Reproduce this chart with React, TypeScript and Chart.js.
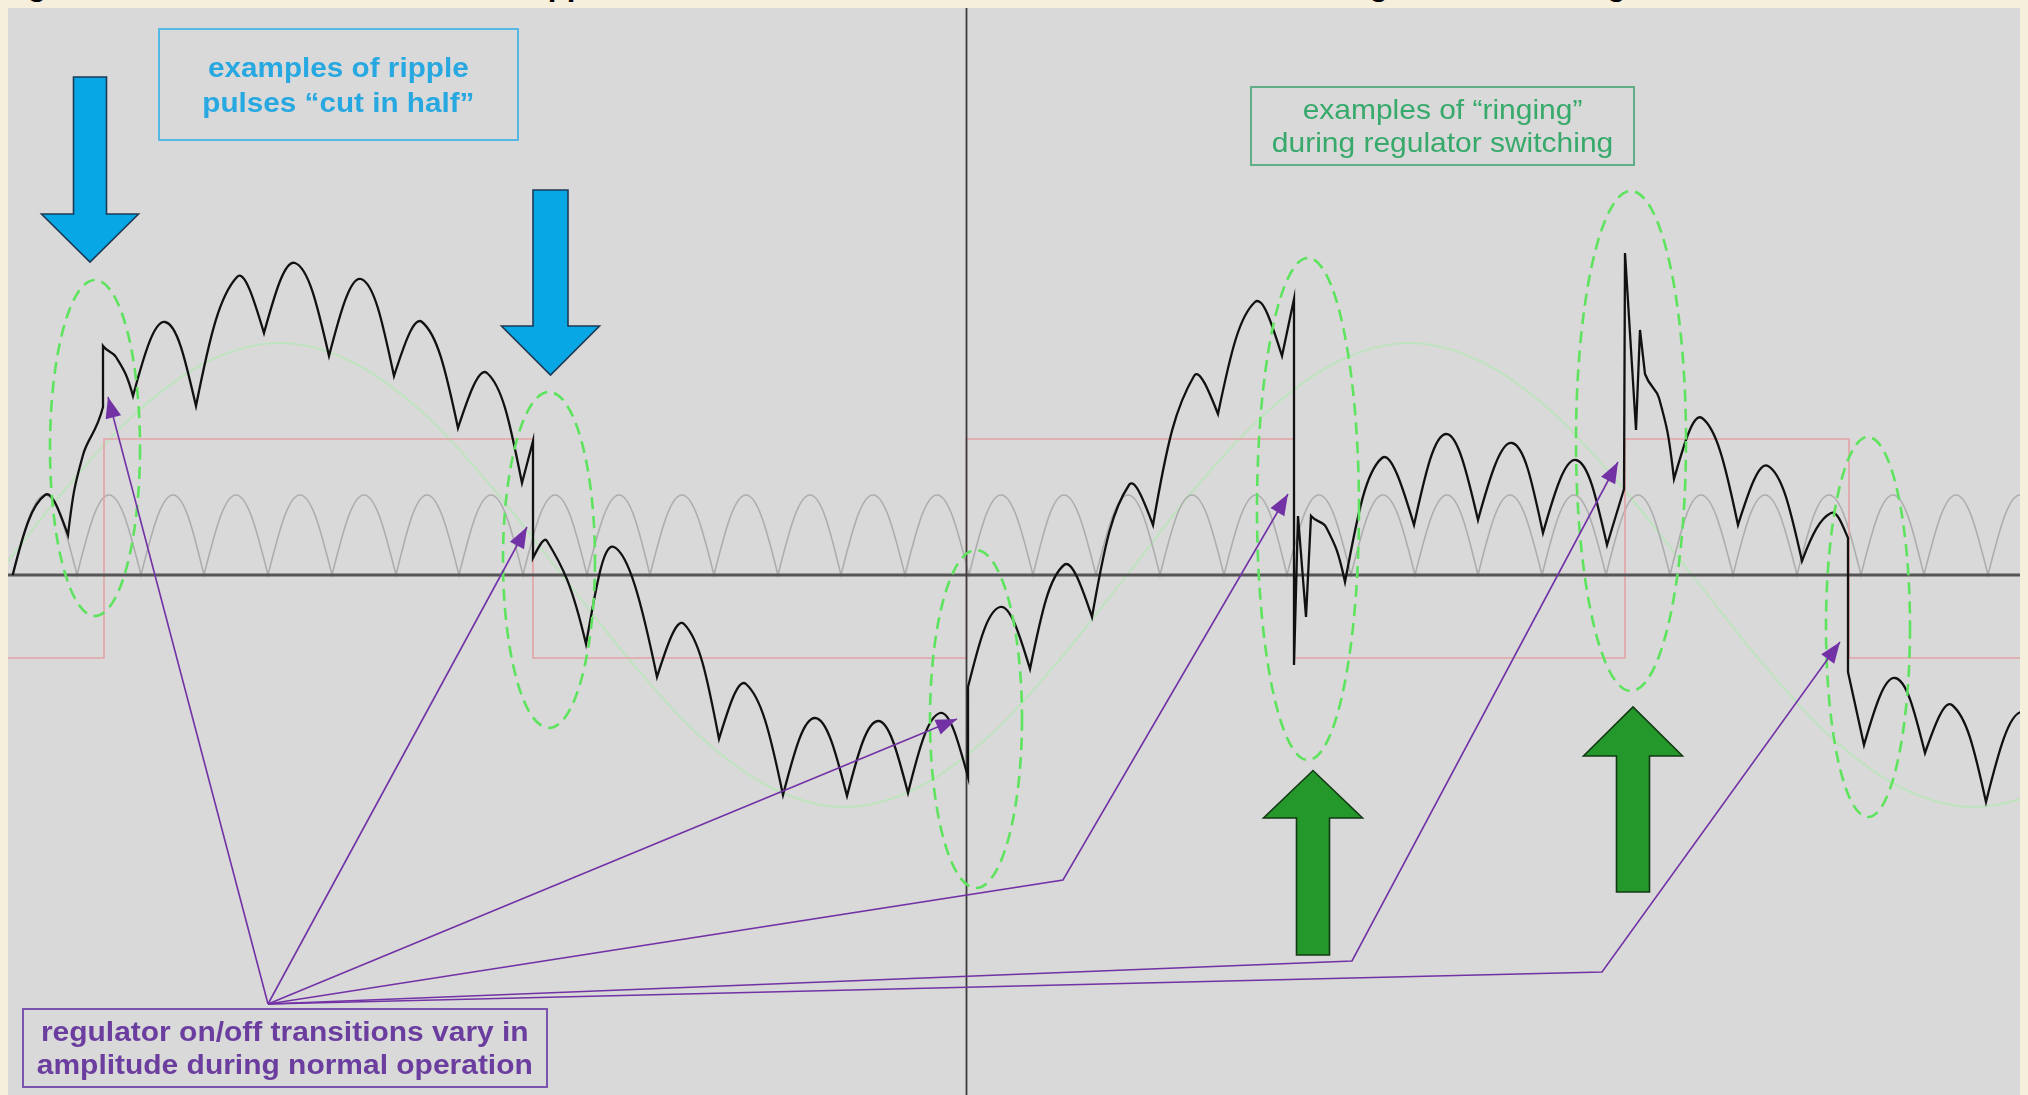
import React, { useEffect, useRef } from "react";
import { Chart, registerables } from "chart.js";

Chart.register(...registerables);

// ---- axis ranges (time in ms, amplitude in V) ----
const X_MIN = 0;
const X_MAX = 201.2;
const Y_MIN = -52.0;
const Y_MAX = 56.7;

// ---- black measured signal: vertices ----
// sharp = 1 marks a cusp / corner (drawn with a sharp turn)
const signalX = [
  0.47, 3.7, 6.0, 7.5, 9.5, 9.5, 10.8, 12.5, 15.7, 18.8,
  22.9, 25.6, 28.7, 32.1, 35.3, 38.6, 41.4, 45.0, 47.9, 51.4,
  52.5, 52.5, 53.9, 57.8, 60.6, 64.9, 67.6, 71.1, 73.8, 77.5,
  80.7, 83.9, 87.0, 90.0, 93.2, 96.0, 96.0, 99.2, 102.2, 105.6,
  108.4, 112.1, 114.5, 118.6, 121.0, 124.7, 127.4, 128.6, 128.6, 129.0,
  129.8, 130.3, 131.8, 133.7, 137.4, 140.6, 143.8, 147.0, 150.4, 153.5,
  156.8, 159.9, 161.6, 161.7, 162.8, 163.2, 163.7, 165.1, 166.6, 169.4,
  173.0, 176.0, 179.4, 182.3, 184.0, 184.0, 185.6, 188.7, 191.7, 194.4,
  197.8, 201.4, 204.8,
];
const signalY = [
  0.0, 8.0, 4.0, 12.0, 16.8, 22.9, 21.8, 17.9, 25.3, 16.9,
  29.8, 24.2, 31.2, 21.9, 29.6, 19.9, 25.3, 14.7, 20.2, 9.2,
  13.4, 1.7, 3.4, -6.9, 2.8, -10.2, -4.9, -16.4, -10.9, -22.0,
  -14.3, -22.1, -14.6, -21.8, -13.8, -20.2, -11.2, -3.2, -9.4, 1.0,
  -4.2, 9.0, 5.0, 19.9, 16.1, 27.3, 21.9, 27.6, -9.0, 5.9,
  -4.2, 5.9, 4.8, -0.7, 11.7, 5.0, 14.1, 5.5, 13.2, 4.2,
  11.5, 3.0, 8.6, 32.2, 14.5, 24.5, 20.1, 17.7, 9.6, 15.7,
  5.0, 10.9, 1.4, 6.2, 3.7, -9.7, -17.0, -10.3, -17.8, -13.0,
  -22.7, -13.7, -22.5,
];
const signalSharp = [
  1, 0, 1, 0, 1, 1, 0, 1, 0, 1,
  0, 1, 0, 1, 0, 1, 0, 1, 0, 1,
  1, 1, 0, 1, 0, 1, 0, 1, 0, 1,
  0, 1, 0, 1, 0, 1, 1, 0, 1, 0,
  1, 0, 1, 0, 1, 0, 1, 1, 1, 1,
  1, 1, 0, 1, 0, 1, 0, 1, 0, 1,
  0, 1, 1, 1, 1, 1, 1, 0, 1, 0,
  1, 0, 1, 0, 1, 1, 1, 0, 1, 0,
  1, 0, 1,
];

// ---- grey full-wave rectified ripple (reference) ----
const rippleCuspX = [
  0.5, 6.9, 13.3, 19.6, 26.0, 32.4, 38.8, 45.1, 51.5, 57.9, 64.2,
  70.6, 77.0, 83.3, 89.7, 96.1, 102.5, 108.8, 115.2, 121.6, 127.9,
  134.3, 140.7, 147.0, 153.4, 159.8, 166.2, 172.5, 178.9, 185.3, 191.6,
  198.0, 204.4,
];
const ripplePeakX = [
  3.7, 10.1, 16.5, 22.8, 29.2, 35.6, 41.9, 48.3, 54.7, 61.1, 67.4,
  73.8, 80.2, 86.5, 92.9, 99.3, 105.6, 112.0, 118.4, 124.8, 131.1,
  137.5, 143.9, 150.2, 156.6, 163.0, 169.3, 175.7, 182.1, 188.5, 194.8,
  201.2,
];
const RIPPLE_PEAK = 8.0;

// ---- faint green AC sine (reference) ----
const sineX = [
  -1.1, 6.0, 13.0, 20.1, 27.15, 34.2, 41.3, 48.3, 55.4, 62.5, 69.5,
  76.6, 83.6, 90.7, 97.8, 104.8, 111.9, 118.9, 126.0, 133.1, 140.15,
  147.2, 154.3, 161.3, 168.4, 175.5, 182.5, 189.6, 196.6, 203.7, 210.8,
];
const sineY = [
  0, 8.9, 16.4, 21.4, 23.2, 21.4, 16.4, 8.9, 0, -8.9, -16.4,
  -21.4, -23.2, -21.4, -16.4, -8.9, 0, 8.9, 16.4, 21.4, 23.2,
  21.4, 16.4, 8.9, 0, -8.9, -16.4, -21.4, -23.2, -21.4, -16.4,
];

// ---- pink regulator on/off state ----
const regX = [0, 9.6, 52.5, 95.85, 128.6, 161.7, 184.1, 201.2];
const regY = [-8.3, 13.6, -8.3, 13.6, -8.3, 13.6, -8.3, -8.3];

const CENTER_X = 95.85;

// ---- annotations (in data units) ----
const ellipseCX = [8.7, 54.1, 96.8, 130.0, 162.3, 186.0];
const ellipseCY = [12.7, 1.5, -14.4, 6.6, 13.4, -5.2];
const ellipseRX = [4.5, 4.6, 4.6, 5.1, 5.5, 4.2];
const ellipseRY = [16.8, 16.8, 16.9, 25.1, 25.0, 19.0];

const pointerOrigin = [26.0, -42.9];
const pointerPaths = [
  [[10.0, 17.8]],
  [[51.9, 4.8]],
  [[94.9, -14.4]],
  [[105.5, -30.5], [128.0, 8.1]],
  [[134.4, -38.6], [161.0, 11.3]],
  [[159.4, -39.7], [183.2, -6.7]],
];

const blueArrows = [
  { cx: 8.2, end: 49.8, base: 36.1, tip: 31.3, shaft: 1.65, head: 4.85 },
  { cx: 54.25, end: 38.5, base: 24.9, tip: 20.0, shaft: 1.75, head: 4.9 },
];
const greenArrows = [
  { cx: 130.5, end: -38.0, base: -24.3, tip: -19.55, shaft: 1.65, head: 4.95 },
  { cx: 162.5, end: -31.7, base: -18.1, tip: -13.2, shaft: 1.65, head: 4.95 },
];

const CURVE_TENSION = 0.36;
const CUSP_STEEPNESS = 1.6;

function buildSignal() {
  const pts: { x: number; y: number; s: number }[] = [];
  for (let i = 0; i < signalX.length; i++) {
    pts.push({ x: signalX[i], y: signalY[i], s: signalSharp[i] });
    if (signalSharp[i]) pts.push({ x: signalX[i], y: signalY[i], s: 1 });
  }
  return pts;
}

function buildRipple() {
  const pts: { x: number; y: number; s: number }[] = [];
  for (let k = 0; k < rippleCuspX.length; k++) {
    pts.push({ x: rippleCuspX[k], y: 0, s: 1 });
    pts.push({ x: rippleCuspX[k], y: 0, s: 1 });
    if (k < ripplePeakX.length) pts.push({ x: ripplePeakX[k], y: RIPPLE_PEAK, s: 0 });
  }
  return pts;
}

// makes the arches leave their cusps more steeply (rectified-sine look)
const cuspPlugin = {
  id: "cuspShape",
  beforeDatasetDraw(chart: any, args: any) {
    const ds = chart.data.datasets[args.index];
    if (!ds.sharpen) return;
    const meta = args.meta;
    meta.dataset.updateControlPoints(chart.chartArea, meta.iScale.axis);
    const pts = meta.data;
    const raw = ds.data;
    for (let i = 0; i < pts.length; i++) {
      if (!raw[i].s) continue;
      const p = pts[i];
      if (i > 0 && !raw[i - 1].s && p.cp1y !== undefined) {
        p.cp1y = p.y + (p.cp1y - p.y) * CUSP_STEEPNESS;
      }
      if (i < pts.length - 1 && !raw[i + 1].s && p.cp2y !== undefined) {
        p.cp2y = p.y + (p.cp2y - p.y) * CUSP_STEEPNESS;
      }
    }
  },
};

const annotationPlugin = {
  id: "sketchAnnotations",
  afterDatasetsDraw(chart: any) {
    const { ctx, scales } = chart;
    const xs = scales.x;
    const ys = scales.y;
    const px = (v: number) => xs.getPixelForValue(v);
    const py = (v: number) => ys.getPixelForValue(v);
    ctx.save();

    // dashed green ellipses
    ctx.setLineDash([12, 7]);
    ctx.strokeStyle = "#5ee35e";
    ctx.lineWidth = 2.6;
    for (let i = 0; i < ellipseCX.length; i++) {
      const cx = px(ellipseCX[i]);
      const cy = py(ellipseCY[i]);
      const rx = Math.abs(px(ellipseCX[i] + ellipseRX[i]) - cx);
      const ry = Math.abs(py(ellipseCY[i] + ellipseRY[i]) - cy);
      ctx.beginPath();
      ctx.ellipse(cx, cy, rx, ry, 0, 0, Math.PI * 2);
      ctx.stroke();
    }
    ctx.setLineDash([]);

    // purple pointer lines
    ctx.strokeStyle = "#7232a6";
    ctx.fillStyle = "#7232a6";
    ctx.lineWidth = 1.6;
    for (const path of pointerPaths) {
      const pts = [pointerOrigin, ...path].map((p) => [px(p[0]), py(p[1])]);
      ctx.beginPath();
      ctx.moveTo(pts[0][0], pts[0][1]);
      for (let i = 1; i < pts.length; i++) ctx.lineTo(pts[i][0], pts[i][1]);
      ctx.stroke();
      const a = pts[pts.length - 2];
      const b = pts[pts.length - 1];
      const ang = Math.atan2(b[1] - a[1], b[0] - a[0]);
      const L = 21;
      const W = 8;
      const bx = b[0] - L * Math.cos(ang);
      const by = b[1] - L * Math.sin(ang);
      ctx.beginPath();
      ctx.moveTo(b[0], b[1]);
      ctx.lineTo(bx + W * Math.sin(ang), by - W * Math.cos(ang));
      ctx.lineTo(bx - W * Math.sin(ang), by + W * Math.cos(ang));
      ctx.closePath();
      ctx.fill();
    }

    const drawArrow = (a: any, fill: string, stroke: string) => {
      ctx.beginPath();
      ctx.moveTo(px(a.cx - a.shaft), py(a.end));
      ctx.lineTo(px(a.cx + a.shaft), py(a.end));
      ctx.lineTo(px(a.cx + a.shaft), py(a.base));
      ctx.lineTo(px(a.cx + a.head), py(a.base));
      ctx.lineTo(px(a.cx), py(a.tip));
      ctx.lineTo(px(a.cx - a.head), py(a.base));
      ctx.lineTo(px(a.cx - a.shaft), py(a.base));
      ctx.closePath();
      ctx.fillStyle = fill;
      ctx.fill();
      ctx.strokeStyle = stroke;
      ctx.lineWidth = 1.6;
      ctx.lineJoin = "miter";
      ctx.stroke();
    };
    for (const a of blueArrows) drawArrow(a, "#07a7e6", "#1d3a55");
    for (const a of greenArrows) drawArrow(a, "#24982a", "#133a14");

    ctx.restore();
  },
};

const FONT = "'Liberation Sans', Arial, Helvetica, sans-serif";

export default function App() {
  const ref = useRef<HTMLCanvasElement>(null);

  useEffect(() => {
    if (!ref.current) return;
    const chart = new Chart(ref.current, {
      type: "line",
      data: {
        datasets: [
          {
            label: "measured",
            data: buildSignal(),
            borderColor: "#111111",
            borderWidth: 2.3,
            tension: CURVE_TENSION,
            pointRadius: 0,
            fill: false,
            order: 0,
            sharpen: true,
          },
          {
            label: "center",
            data: [
              { x: CENTER_X, y: Y_MIN },
              { x: CENTER_X, y: Y_MAX },
            ],
            borderColor: "#3c3c3c",
            borderWidth: 1.8,
            pointRadius: 0,
            order: 1,
          },
          {
            label: "zero",
            data: [
              { x: X_MIN, y: 0 },
              { x: X_MAX, y: 0 },
            ],
            borderColor: "#555555",
            borderWidth: 3,
            pointRadius: 0,
            order: 2,
          },
          {
            label: "regulator",
            data: regX.map((x, i) => ({ x, y: regY[i] })),
            borderColor: "#e4a2a6",
            borderWidth: 1.6,
            stepped: "before",
            pointRadius: 0,
            order: 3,
          },
          {
            label: "ripple",
            data: buildRipple(),
            borderColor: "#adadad",
            borderWidth: 1.6,
            tension: CURVE_TENSION,
            pointRadius: 0,
            order: 4,
            sharpen: true,
          },
          {
            label: "ac",
            data: sineX.map((x, i) => ({ x, y: sineY[i] })),
            borderColor: "#bfe3bf",
            borderWidth: 2,
            cubicInterpolationMode: "monotone",
            pointRadius: 0,
            order: 5,
          },
        ] as any,
      },
      options: {
        animation: false,
        responsive: false,
        events: [],
        layout: { padding: 0 },
        scales: {
          x: { type: "linear", min: X_MIN, max: X_MAX, display: false },
          y: { type: "linear", min: Y_MIN, max: Y_MAX, display: false },
        },
        plugins: {
          legend: { display: false },
          tooltip: { enabled: false },
          title: { display: false },
        },
      },
      plugins: [cuspPlugin, annotationPlugin],
    });
    return () => chart.destroy();
  }, []);

  const box = (
    left: number,
    top: number,
    width: number,
    height: number,
    border: string
  ): React.CSSProperties => ({
    position: "absolute",
    left,
    top,
    width,
    height,
    boxSizing: "border-box",
    border: `2px solid ${border}`,
    display: "flex",
    alignItems: "center",
    justifyContent: "center",
    textAlign: "center",
    zIndex: 3,
  });

  return (
    <div
      style={{
        position: "fixed",
        left: 0,
        top: 0,
        width: 2028,
        height: 1095,
        overflow: "hidden",
        background: "#f6efdc",
        fontFamily: FONT,
      }}
    >
      <div
        style={{
          position: "absolute",
          left: 0,
          top: -31,
          whiteSpace: "nowrap",
          fontWeight: 700,
          fontSize: 31,
          lineHeight: "31px",
          color: "#000",
          zIndex: 0,
        }}
      >
        Figure 5. Illustration of the effect of ripple and the action of the electronic current limiter in regulator switching
      </div>
      <div
        style={{
          position: "absolute",
          left: 8,
          top: 8,
          width: 2012,
          height: 1087,
          background: "#d9d9d9",
          zIndex: 1,
        }}
      >
        <canvas ref={ref} width={2012} height={1087} style={{ display: "block", width: 2012, height: 1087 }} />
      </div>

      <div style={box(158, 28, 361, 113, "#55b9e4")}>
        <div
          style={{
            color: "#27a8e0",
            fontWeight: 700,
            fontSize: 28,
            lineHeight: "35px",
            transform: "scaleX(1.06)",
          }}
        >
          examples of ripple
          <br />
          pulses “cut in half”
        </div>
      </div>

      <div style={box(1250, 86, 385, 80, "#5fae88")}>
        <div
          style={{
            color: "#36a96b",
            fontWeight: 400,
            fontSize: 28,
            lineHeight: "33px",
            transform: "scaleX(1.07)",
          }}
        >
          examples of “ringing”
          <br />
          during regulator switching
        </div>
      </div>

      <div style={box(22, 1008, 526, 80, "#7b55ad")}>
        <div
          style={{
            color: "#6a3d9e",
            fontWeight: 700,
            fontSize: 28,
            lineHeight: "33px",
            transform: "scaleX(1.07)",
          }}
        >
          regulator on/off transitions vary in
          <br />
          amplitude during normal operation
        </div>
      </div>
    </div>
  );
}
